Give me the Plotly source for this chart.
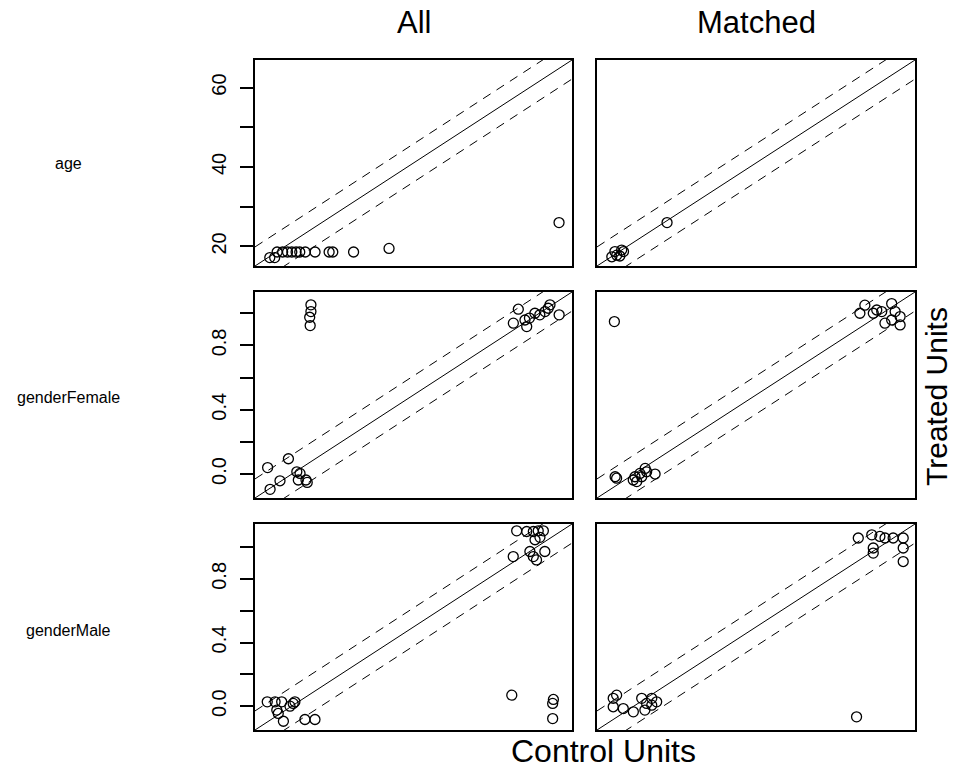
import plotly.graph_objects as go

# ---------------- data ----------------
variables = ["age", "genderFemale", "genderMale"]
columns = ["All", "Matched"]

# axis ranges (same for x and y within a row)
ranges = [[15.08, 66.92], [-0.149, 1.132], [-0.150, 1.145]]

age_all_ctrl = [17.5, 18.3, 18.7, 19.6, 20.4, 21.1, 21.8, 22.4, 23.3, 24.9, 27.2, 27.8, 31.2, 37.0, 64.8]
age_all_trt = [17.2, 17.2, 18.6, 18.6, 18.6, 18.6, 18.6, 18.6, 18.6, 18.6, 18.6, 18.6, 18.6, 19.5, 26.0]

age_m_ctrl = [17.5, 18.0, 18.3, 18.8, 19.1, 19.4, 26.5]
age_m_trt = [17.4, 18.7, 17.8, 17.6, 19.1, 18.7, 26.0]

fem_all_ctrl = [0.077, 0.077, 0.072, 0.074, -0.098, -0.014, -0.088, -0.048, 0.020, 0.033, 0.026, 0.057, 0.062,
                0.915, 0.895, 0.942, 0.949, 0.982, 1.002, 1.023, 1.043, 1.036, 1.080, 0.960]
fem_all_trt = [1.052, 1.010, 0.975, 0.923, 0.040, 0.095, -0.095, -0.042, 0.014, 0.004, -0.037, -0.037, -0.052,
               1.025, 0.938, 0.958, 0.917, 1.000, 0.990, 1.010, 1.052, 1.031, 0.990, 0.970]

fem_m_ctrl = [-0.079, -0.076, -0.070, -0.003, 0.011, 0.004, 0.024, 0.045, 0.051, 0.085, 0.031,
              0.910, 0.930, 0.978, 0.998, 1.038, 1.052, 1.011, 1.038, 1.072, 1.072, 0.964]
fem_m_trt = [0.948, -0.017, -0.026, -0.037, -0.047, -0.017, 0.004, 0.035, 0.014, 0.000, -0.017,
             1.000, 1.050, 1.020, 1.010, 1.060, 1.010, 0.938, 0.958, 0.979, 0.927, 1.000]

male_all_ctrl = [-0.100, -0.068, -0.041, -0.061, -0.055, -0.034, -0.007, 0.013, 0.006, 0.054, 0.095,
                 0.899, 1.069, 1.066, 1.066,
                 0.919, 0.960, 0.987, 1.007, 1.028, 0.994, 1.014, 0.905, 0.973, 0.987, 1.000, 1.034]
male_all_trt = [0.027, 0.027, 0.027, -0.025, -0.046, -0.095, 0.000, 0.027, 0.017, -0.084, -0.084,
                0.069, 0.042, 0.017, -0.078,
                1.102, 1.098, 1.098, 1.102, 1.102, 1.046, 1.061, 0.940, 0.972, 0.940, 0.919, 0.972]

male_m_ctrl = [0.907,
               0.914, 0.969, 1.002, 1.023, 1.056, 1.097, 0.975, 0.975, 1.097, 1.097,
               -0.084, -0.070, -0.084, -0.043, -0.002, 0.032, 0.052, 0.045, 0.073, 0.093, 0.073]
male_m_trt = [-0.067,
              1.057, 1.077, 1.067, 1.057, 1.057, 1.057, 0.994, 0.962, 0.994, 0.909,
              0.049, 0.069, -0.004, -0.015, -0.036, 0.049, 0.017, -0.025, 0.006, 0.027, 0.049]

panel_data = [
    [(age_all_ctrl, age_all_trt), (age_m_ctrl, age_m_trt)],
    [(fem_all_ctrl, fem_all_trt), (fem_m_ctrl, fem_m_trt)],
    [(male_all_ctrl, male_all_trt), (male_m_ctrl, male_m_trt)],
]

ytick_vals = [[20, 30, 40, 50, 60], [0, 0.2, 0.4, 0.6, 0.8, 1.0], [0, 0.2, 0.4, 0.6, 0.8, 1.0]]
ytick_text = [["20", "", "40", "", "60"], ["0.0", "", "0.4", "", "0.8", ""], ["0.0", "", "0.4", "", "0.8", ""]]

# ---------------- layout ----------------
W, H = 954, 770
col_px = [(255, 572), (597, 915)]
row_px = [(60, 266), (292, 498), (524, 730)]
FONT = "Arial, Liberation Sans, sans-serif"

fig = go.Figure()
layout = dict(
    width=W, height=H, margin=dict(l=0, r=0, t=0, b=0),
    paper_bgcolor="white", plot_bgcolor="white", showlegend=False,
    font=dict(family=FONT, color="black"),
)

for r in range(3):
    lo, hi = ranges[r]
    rr = (hi - lo) / 1.08
    off = 0.1 * rr
    for c in range(2):
        n = r * 2 + c + 1
        xa = "x" if n == 1 else f"x{n}"
        ya = "y" if n == 1 else f"y{n}"
        xk = "xaxis" if n == 1 else f"xaxis{n}"
        yk = "yaxis" if n == 1 else f"yaxis{n}"
        x0, x1 = col_px[c]
        y0, y1 = row_px[r]
        layout[xk] = dict(
            domain=[x0 / W, x1 / W], range=[lo, hi], anchor=ya,
            showline=True, mirror=True, linecolor="black", linewidth=1.6,
            showgrid=False, zeroline=False, showticklabels=False, ticks="",
        )
        yd = dict(
            domain=[1 - y1 / H, 1 - y0 / H], range=[lo, hi], anchor=xa,
            showline=True, mirror=True, linecolor="black", linewidth=1.6,
            showgrid=False, zeroline=False,
        )
        if c == 0:
            yd.update(
                tickmode="array", tickvals=ytick_vals[r], ticktext=ytick_text[r],
                ticks="outside", ticklen=13, tickwidth=1.5, tickcolor="black",
                tickangle=-90, tickfont=dict(size=20, family=FONT, color="black"),
                ticklabelstandoff=6,
            )
        else:
            yd.update(showticklabels=False, ticks="")
        layout[yk] = yd

        # reference lines
        fig.add_trace(go.Scatter(x=[lo, hi], y=[lo, hi], mode="lines", xaxis=xa, yaxis=ya,
                                 line=dict(color="black", width=1), hoverinfo="skip"))
        fig.add_trace(go.Scatter(x=[lo, hi], y=[lo + off, hi + off], mode="lines", xaxis=xa, yaxis=ya,
                                 line=dict(color="black", width=1, dash="9px,7px"), hoverinfo="skip"))
        fig.add_trace(go.Scatter(x=[lo, hi], y=[lo - off, hi - off], mode="lines", xaxis=xa, yaxis=ya,
                                 line=dict(color="black", width=1, dash="9px,7px"), hoverinfo="skip"))
        xs, ys = panel_data[r][c]
        fig.add_trace(go.Scatter(x=xs, y=ys, mode="markers", xaxis=xa, yaxis=ya, cliponaxis=True,
                                 marker=dict(symbol="circle-open", size=10, color="black",
                                             line=dict(width=1.3, color="black"))))

annotations = []
for c, name in enumerate(columns):
    x0, x1 = col_px[c]
    annotations.append(dict(text=name, x=(x0 + x1) / 2 / W, y=1 - 23 / H, xref="paper", yref="paper",
                            showarrow=False, font=dict(size=31, family=FONT, color="black"),
                            xanchor="center", yanchor="middle"))
row_label_y = [163, 397, 630]
for r, name in enumerate(variables):
    annotations.append(dict(text=name, x=68 / W, y=1 - row_label_y[r] / H, xref="paper", yref="paper",
                            showarrow=False, font=dict(size=16, family=FONT, color="black"),
                            xanchor="center", yanchor="middle"))
annotations.append(dict(text="Control Units", x=603 / W, y=1 - 751 / H, xref="paper", yref="paper",
                        showarrow=False, font=dict(size=32, family=FONT, color="black"),
                        xanchor="center", yanchor="middle"))
annotations.append(dict(text="Treated Units", x=936 / W, y=1 - 397 / H, xref="paper", yref="paper",
                        showarrow=False, textangle=-90, font=dict(size=30, family=FONT, color="black"),
                        xanchor="center", yanchor="middle"))
layout["annotations"] = annotations
fig.update_layout(**layout)
fig.write_html("out.html")
